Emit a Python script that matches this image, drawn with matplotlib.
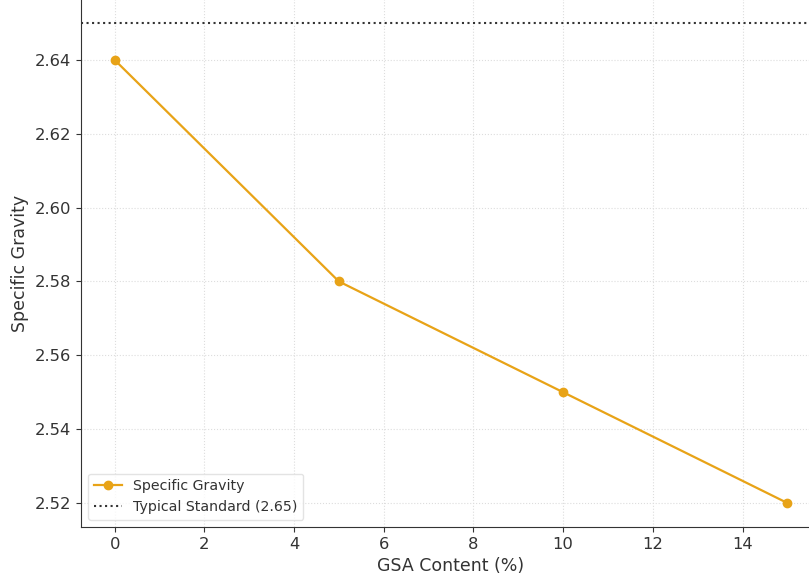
import matplotlib
matplotlib.use('Agg')
import matplotlib.pyplot as plt

# data
gsa_content = [0, 5, 10, 15]
specific_gravity = [2.64, 2.58, 2.55, 2.52]
typical_standard = 2.65

fig = plt.figure(figsize=(8.09, 5.74), dpi=100)
# the reference is cropped on the top and right, so the axes run past the edge
ax = fig.add_axes([81 / 809, 47 / 574, 740 / 809, 528 / 574])

ax.plot(gsa_content, specific_gravity, marker='o', color='#E8A317',
        linewidth=1.6, markersize=6, label='Specific Gravity')
ax.axhline(typical_standard, color='#333333', linestyle=':', linewidth=1.5,
           label='Typical Standard (2.65)')

ax.set_xlabel('GSA Content (%)', fontsize=12.5, color='#333333')
ax.set_ylabel('Specific Gravity', fontsize=12.5, color='#333333')
ax.tick_params(labelsize=11.8, colors='#333333')
ax.grid(True, linestyle=':', color='#dddddd', linewidth=0.8)
for s in ax.spines.values():
    s.set_color('#333333')
ax.spines['top'].set_visible(False)
ax.spines['right'].set_visible(False)

ax.legend(loc='lower left', fontsize=10.2, framealpha=0.8, edgecolor='#dddddd',
          labelcolor='#333333')

fig.savefig('out.png', dpi=100)
